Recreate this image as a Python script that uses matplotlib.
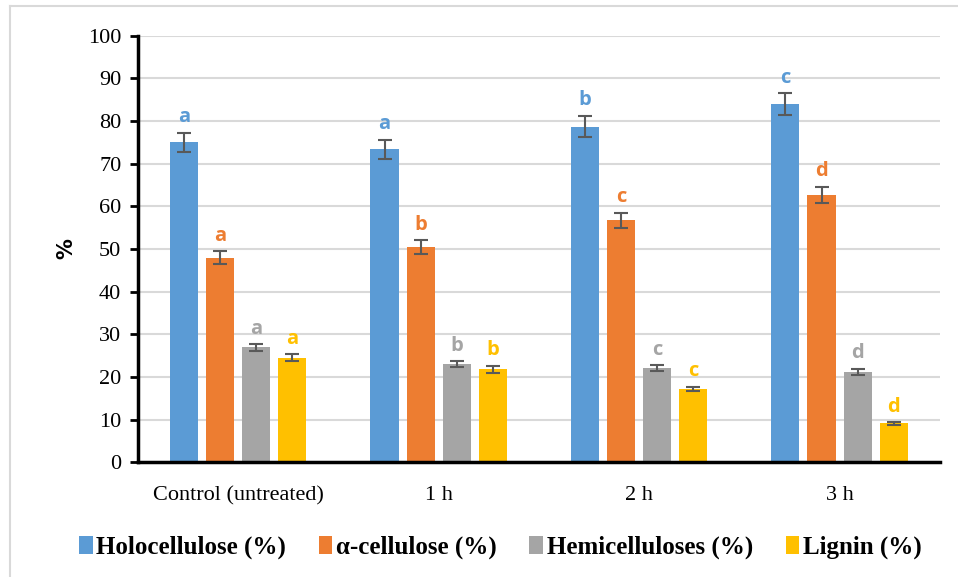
import matplotlib.pyplot as plt
from matplotlib.lines import Line2D
import numpy as np

groups = ['Control (untreated)', '1 h', '2 h', '3 h']
series = ['Holocellulose (%)', 'α-cellulose (%)', 'Hemicelluloses (%)', 'Lignin (%)']
values = [
    [75.0, 73.4, 78.7, 84.0],
    [48.0, 50.4, 56.7, 62.7],
    [26.9, 23.0, 22.0, 21.2],
    [24.5, 21.8, 17.2, 9.1],
]
errors = [
    [2.3, 2.2, 2.5, 2.5],
    [1.5, 1.6, 1.8, 1.9],
    [0.8, 0.7, 0.7, 0.7],
    [0.8, 0.8, 0.5, 0.3],
]
letters = [
    ['a', 'a', 'b', 'c'],
    ['a', 'b', 'c', 'd'],
    ['a', 'b', 'c', 'd'],
    ['a', 'b', 'c', 'd'],
]
colors = ['#5b9bd5', '#ed7d31', '#a5a5a5', '#ffc000']

fig = plt.figure(figsize=(9.58, 5.77), dpi=100)
# thin frame along the top and left edge
fig.add_artist(Line2D([9.5 / 958, 9.5 / 958], [0, 1 - 5.5 / 577], transform=fig.transFigure,
                      color='#d9d9d9', lw=1.5))
fig.add_artist(Line2D([9.5 / 958, 1], [1 - 5.5 / 577, 1 - 5.5 / 577], transform=fig.transFigure,
                      color='#d9d9d9', lw=1.5))
ax = fig.add_axes([0.144, 0.199, 0.837, 0.739])

x = np.arange(len(groups))
width = 0.14
step = 0.18
for i, (name, vals, errs, lab, col) in enumerate(zip(series, values, errors, letters, colors)):
    pos = x + (i - 1.5) * step
    ax.bar(pos, vals, width, color=col, label=name, zorder=2)
    ax.errorbar(pos, vals, yerr=errs, fmt='none', ecolor='#595959',
                elinewidth=1.5, capsize=5, capthick=1.5, zorder=3)
    for p, v, e, t in zip(pos, vals, errs, lab):
        ax.text(p, v + e + 1.3, t, ha='center', va='bottom', color=col,
                fontsize=14.5, fontweight='bold', family='Open Sans')

ax.set_xlim(-0.5, 3.5)
ax.set_ylim(0, 100)
ax.set_yticks(range(0, 101, 10))
ax.set_xticks(x)
ax.set_xticklabels(groups, family='Liberation Serif', fontsize=16)
for lbl in ax.get_yticklabels():
    lbl.set_family('Liberation Serif')
    lbl.set_fontsize(16)
ax.tick_params(axis='x', length=0, pad=17)
ax.tick_params(axis='y', length=6, width=2, direction='out', pad=6)
ax.yaxis.grid(True, color='#d9d9d9', linewidth=1.5, zorder=0)
ax.set_axisbelow(True)
for s in ['top', 'right']:
    ax.spines[s].set_visible(False)
ax.spines['left'].set_linewidth(2.5)
ax.spines['bottom'].set_linewidth(2.5)
ax.set_ylabel('%', fontsize=15, fontweight='bold', family='DejaVu Sans', labelpad=8)

ax.legend(loc='upper center', bbox_to_anchor=(0.452, -0.12), ncol=4, frameon=False,
          prop={'family': 'Liberation Serif', 'weight': 'bold', 'size': 18},
          handlelength=0.55, handleheight=0.75, handletextpad=0.15, columnspacing=1.3)

fig.savefig('out.png', dpi=100)
